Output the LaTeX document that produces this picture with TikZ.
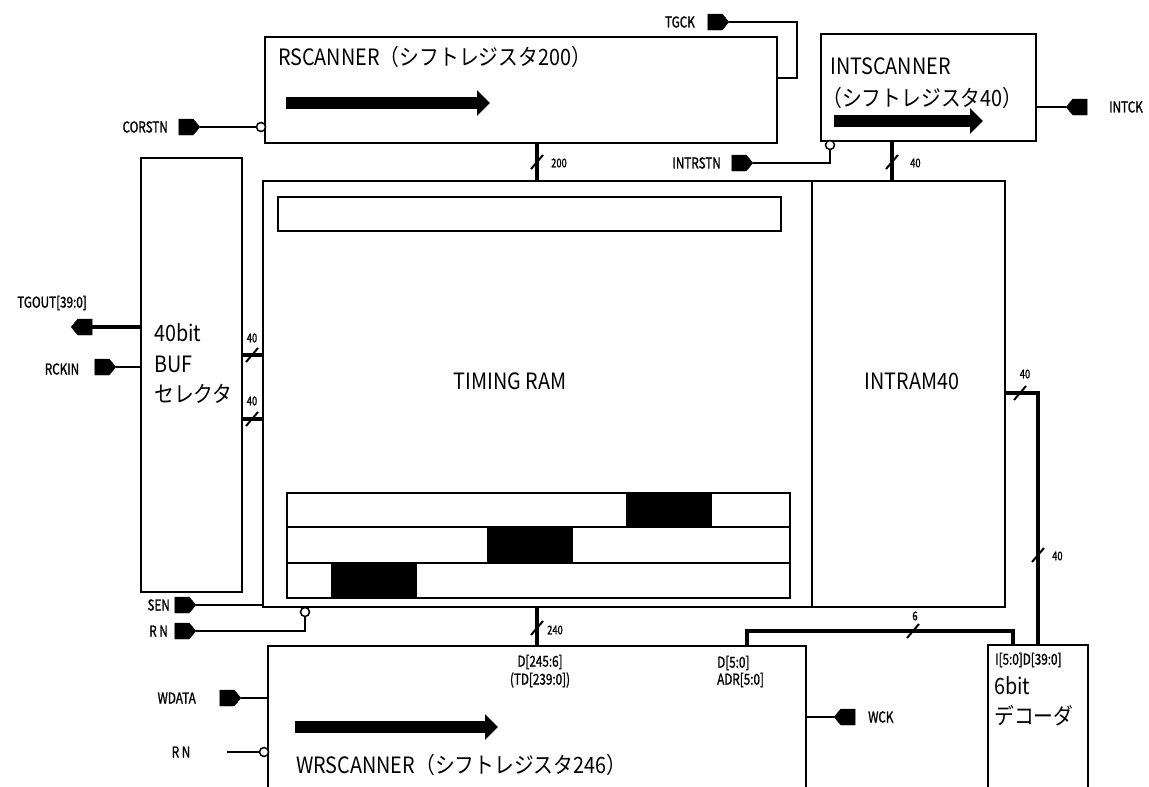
\documentclass[tikz,border=0pt]{standalone}
\usepackage{fontspec}
\setmainfont{Noto Sans CJK JP}
\newfontfamily\jpf[FakeStretch=0.88]{Noto Sans CJK JP}
\newfontfamily\lbf[FakeStretch=0.78,FakeBold=1.2]{Noto Sans CJK JP}
\usetikzlibrary{shapes.symbols,arrows.meta,calc}
\tikzset{
 box/.style={draw, line width=2.3pt, anchor=north west, inner sep=0pt, outer sep=0pt},
 sig/.style={line width=2pt},
 bus/.style={line width=3.2pt},
 slashst/.style={line width=2pt},
 pinR/.style={signal, signal to=east, fill=black, draw=black, minimum width=21pt, minimum height=16pt, inner sep=0pt, outer sep=0pt, signal pointer angle=100},
 pinL/.style={signal, signal to=west, fill=black, draw=black, minimum width=21pt, minimum height=16pt, inner sep=0pt, outer sep=0pt, signal pointer angle=100},
 bub/.style={circle, draw, fill=white, line width=1.5pt, minimum size=9pt, inner sep=0pt, outer sep=0pt},
 small/.style={font=\lbf\fontsize{15}{15}\selectfont, inner sep=0pt},
 tiny/.style={font=\lbf\fontsize{12}{12}\selectfont, inner sep=0pt},
 big/.style={font=\jpf\fontsize{22.5}{24}\selectfont, inner sep=0pt, anchor=west},
 fat/.style={line width=12pt, -{Triangle[length=13pt,width=25pt]}},
 inner/.style={line width=2pt},
}
\newcommand\busslash[1]{\draw[slashst] ($(#1)+(-6,7)$) -- ($(#1)+(6,-7)$);}
\begin{document}
\begin{tikzpicture}[x=1pt,y=-1pt]
\useasboundingbox (0,0) rectangle (1149,787);
% boxes
\node[box,minimum width=512pt,minimum height=106pt] (rs) at (265,37) {};
\node[box,minimum width=215pt,minimum height=107pt] (is) at (821,34) {};
\node[box,minimum width=101pt,minimum height=434pt] (buf) at (141,158) {};
\node[box,minimum width=549pt,minimum height=426pt] (tr) at (263,181) {};
\node[box,minimum width=193pt,minimum height=426pt] (ir) at (812,181) {};
\node[box,minimum width=538pt,minimum height=160pt] (wr) at (268,646) {};
\node[box,minimum width=100pt,minimum height=160pt] (dec) at (988,645) {};
% timing ram contents
\draw[inner] (278,197) rectangle (781,231);
\draw[inner] (287,493) rectangle (790,598);
\draw[inner] (287,527) -- (790,527) (287,563) -- (790,563);
\fill (626,493) rectangle (712,527);
\fill (487,527) rectangle (573,563);
\fill (331,563) rectangle (417,598);
% fat arrows
\draw[fat] (286,103) -- (490,103);
\draw[fat] (834,121) -- (983,121);
\draw[fat] (295,727) -- (498,727);
% texts in boxes
\node[big] (rst) at (278,57) {RSCANNER（シフトレジスタ200）};
\node[big] (ist1) at (830,66) {INTSCANNER};
\node[big] (ist2) at (822,98) {（シフトレジスタ40）};
\node[big] (buft1) at (154,333) {40bit};
\node[big] (buft2) at (154,364) {BUF};
\node[big] (buft3) at (154,394) {セレクタ};
\node[big,anchor=center] (trt) at (510,381) {TIMING RAM};
\node[big,anchor=center] (irt) at (912,381) {INTRAM40};
\node[big] (wrt) at (296,765) {WRSCANNER（シフトレジスタ246）};
\node[big] (dect1) at (994,686) {6bit};
\node[big] (dect2) at (994,716) {デコーダ};
\node[small,anchor=west] (dect0) at (995,660) {I[5:0]D[39:0]};
\node[small] (wrd1) at (540,662) {D[245:6]};
\node[small] (wrd2) at (540,680) {(TD[239:0])};
\node[small,anchor=west] (wra1) at (717,663) {D[5:0]};
\node[small,anchor=west] (wra2) at (717,680) {ADR[5:0]};
% TGCK
\node[pinR] (tgckp) at (715,22) {};
\node[small,anchor=east] (tgckl) at (695,22) {TGCK};
\draw[sig] (tgckp.east) -- ++(68,0) |- ($(rs.north east)+(0,41)$);
% CORSTN
\node[pinR] (corp) at (186,127) {};
\node[small,anchor=east] (corl) at (168,127) {CORSTN};
\node[bub] (corb) at (261,127) {};
\draw[sig] (corp.east) -- (corb.west);
% INTRSTN
\node[pinR] (irp) at (739,163) {};
\node[small,anchor=east] (irl) at (721,163) {INTRSTN};
\node[bub] (irb) at (830,145) {};
\draw[sig] (irp.east) -| (irb.south);
% INTCK
\node[pinL] (ickp) at (1080,107) {};
\node[small,anchor=west] (ickl) at (1109,107) {INTCK};
\draw[sig] (is.east |- ickp) -- (ickp.west);
% RSCANNER -> TIMING RAM bus
\coordinate (b200) at (537,162);
\draw[bus] (rs.south -| b200) -- (tr.north -| b200);
\busslash{b200}
\node[tiny,anchor=west] (l200) at (551,163) {200};
% INTSCANNER -> INTRAM bus
\coordinate (b40a) at (892,162);
\draw[bus] (is.south -| b40a) -- (ir.north -| b40a);
\busslash{b40a}
\node[tiny,anchor=west] (l40a) at (910,163) {40};
% TGOUT
\node[pinL] (tgp) at (85,327) {};
\node[small] (tgl) at (52,303) {TGOUT[39:0]};
\draw[bus] (tgp.east) -- (buf.west |- tgp);
% RCKIN
\node[pinR] (rcp) at (102,367) {};
\node[small] (rcl) at (62,369) {RCKIN};
\draw[sig] (rcp.east) -- (buf.west |- rcp);
% BUF <-> TIMING RAM
\coordinate (bt1) at (252,355);
\coordinate (bt2) at (252,419);
\draw[bus] (buf.east |- bt1) -- (tr.west |- bt1);
\draw[bus] (buf.east |- bt2) -- (tr.west |- bt2);
\busslash{bt1}
\busslash{bt2}
\node[tiny] (lbt1) at (252,338) {40};
\node[tiny] (lbt2) at (252,401) {40};
% SEN
\node[pinR] (senp) at (182,605) {};
\node[small,anchor=east] (senl) at (170,605) {SEN};
\draw[sig] (senp.east) -- (tr.west |- senp);
% RN (upper)
\node[pinR] (rnp) at (182,631) {};
\node[small,anchor=east] (rnl) at (168,631) {R N};
\node[bub] (rnb) at (305,612) {};
\draw[sig] (rnp.east) -| (rnb.south);
% TIMING RAM -> WRSCANNER bus
\coordinate (b240) at (537,628);
\draw[bus] (tr.south -| b240) -- (wr.north -| b240);
\busslash{b240}
\node[tiny,anchor=west] (l240) at (547,630) {240};
% WDATA
\node[pinR] (wdp) at (227,698) {};
\node[small,anchor=east] (wdl) at (196,698) {WDATA};
\draw[sig] (wdp.east) -- (wr.west |- wdp);
% RN (lower)
\coordinate (rn2s) at (227,752);
\node[small] (rn2l) at (181,752) {R N};
\node[bub] (rn2b) at (264,752) {};
\draw[sig] (rn2s) -- (rn2b.west);
% WCK
\node[pinL] (wckp) at (848,717) {};
\node[small,anchor=west] (wckl) at (868,717) {WCK};
\draw[sig] (wr.east |- wckp) -- (wckp.west);
% 6 bit bus
\coordinate (b6a) at (747,631);
\coordinate (b6b) at (1013,631);
\coordinate (b6s) at (913,631);
\draw[bus] (wr.north -| b6a) -- (b6a) -- (b6b) -- (dec.north -| b6b);
\busslash{b6s}
\node[tiny] (l6) at (915,616) {6};
% 40 bit bus INTRAM -> decoder
\coordinate (b40c) at (1038,393);
\coordinate (b40s1) at (1020,393);
\coordinate (b40s2) at (1038,555);
\draw[bus] (ir.east |- b40c) -- (b40c) -- (dec.north -| b40c);
\busslash{b40s1}
\busslash{b40s2}
\node[tiny] (l40c) at (1025,374) {40};
\node[tiny,anchor=west] (l40d) at (1052,556) {40};
\end{tikzpicture}
\end{document}
